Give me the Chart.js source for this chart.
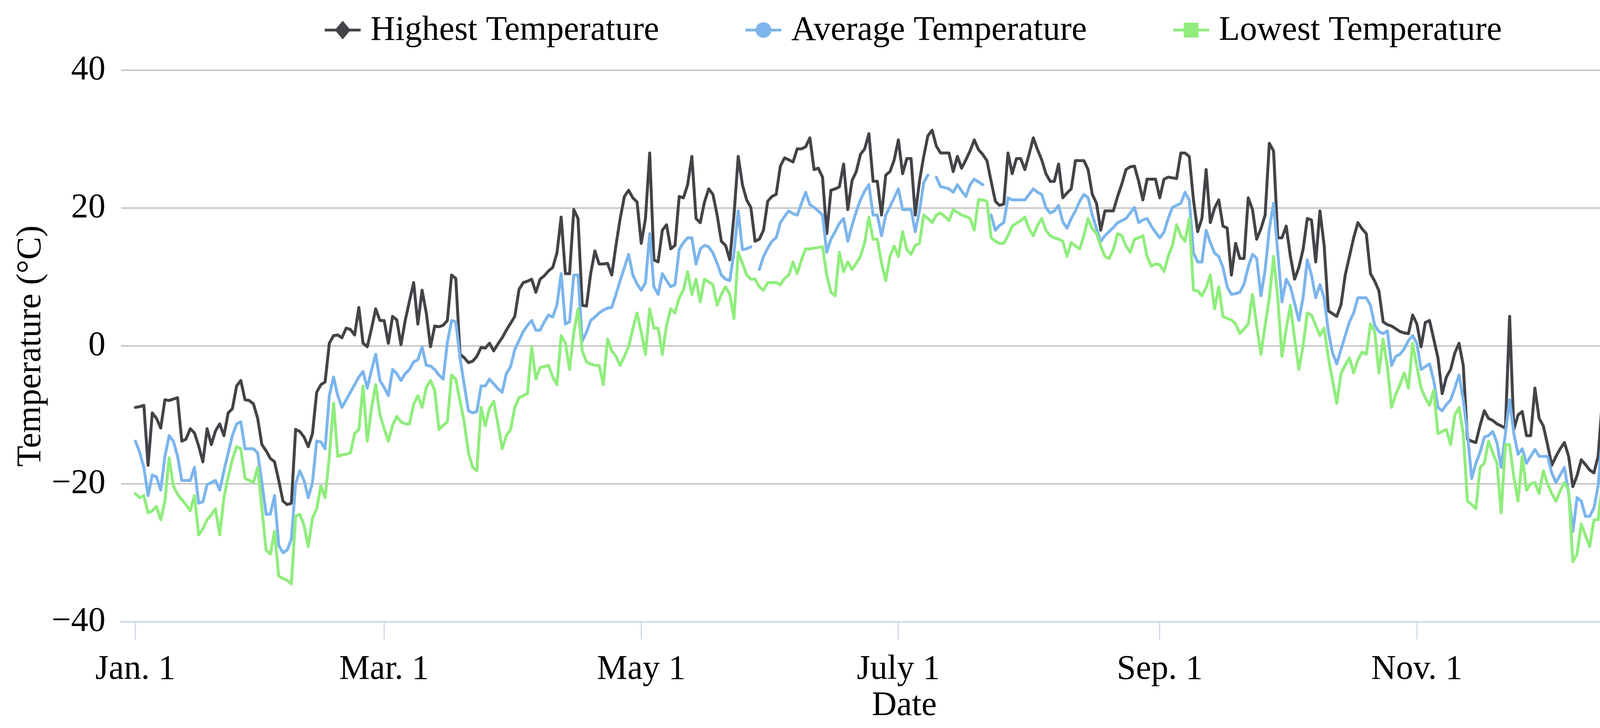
<!DOCTYPE html>
<html>
<head>
<meta charset="utf-8">
<script src="https://cdn.jsdelivr.net/npm/chart.js@4.4.1/dist/chart.umd.min.js"></script>
<style>
html,body{margin:0;padding:0;background:#fff;overflow:hidden;}
#wrap{width:4421px;height:1864px;position:relative;}
</style>
</head>
<body>
<div id="wrap"><canvas id="c"></canvas></div>
<script>
// ---- data (day index 0 = Jan. 1) ----
const seriesNames = ['Highest Temperature', 'Average Temperature', 'Lowest Temperature'];
const tickDays = [0, 59, 120, 181, 243, 304, 365];
const tickLabels = ['Jan. 1', 'Mar. 1', 'May 1', 'July 1', 'Sep. 1', 'Nov. 1', 'Jan. 1'];
const yTicks = [-40, -20, 0, 20, 40];

const highTemp = [
-8.9,-8.8,-8.6,-17.3,-9.7,-10.5,-11.9,-7.8,-7.9,-7.7,
-7.5,-13.8,-13.5,-12,-12.6,-14.5,-16.8,-12,-14.3,-12.3,
-11.3,-13,-9.7,-9.1,-5.8,-5,-7.8,-7.9,-8.4,-10.5,
-14.3,-15.2,-16.3,-16.8,-19.5,-22.5,-23,-22.8,-12.1,-12.4,
-13.2,-14.6,-12.7,-6.7,-5.6,-5.2,0.4,1.5,1.6,1.2,
2.6,2.4,1.6,5.6,0.4,-0.1,2.5,5.4,3.7,3.7,
0.4,4.3,3.8,0.2,3.7,6.5,9.2,3.2,8.1,4.8,
-0.1,2.9,2.8,3.0,3.7,10.3,9.8,-1.2,-1.7,-2.4,
-2.2,-1.5,-0.2,-0.3,0.4,-0.7,0.3,1.2,2.3,3.3,
4.3,8.2,9.2,9.4,9.7,7.8,9.7,10.2,10.9,11.4,
13.5,18.7,10.5,10.5,19.8,18.5,5.9,5.8,10.5,13.8,
11.9,11.9,12.0,10.3,14.6,18.5,21.7,22.6,21.5,20.9,
14.9,18.5,28,12.5,12.2,16.8,17.6,14.1,14.6,21.7,
21.5,23.4,27.5,18.5,17.9,20.9,22.8,22,19,15.2,
14.6,12.5,19,27.5,23.4,21.2,20.1,15.2,15.5,16.8,
21.0,21.7,22,26.1,27.3,27.0,26.7,28.6,28.6,28.9,
30.2,25.6,25.8,24.5,16.3,22.6,22.8,23.1,26.4,19.8,
24.0,25.3,27.8,28.6,30.8,23.9,23.9,19,24.8,25.3,
27,29.9,25,27.2,27.2,19,23.9,27.5,30.5,31.3,
29,28,28,28,25.3,27.5,25.8,27,28.3,29.9,
28.5,27.8,26.9,23.9,21,20.4,20.6,28,25,27.2,
27.2,25.6,27.8,30.2,28.5,27,25,23.9,23.9,26.4,
21.5,22.2,22.8,26.9,26.9,26.9,25.6,22,20.7,16.8,
19.6,19.6,19.6,21.7,23.5,25.6,26,26.1,23.9,21.2,
24.2,24.2,24.2,21.5,24.2,24.5,24.4,24.3,28,28,
27.5,21.2,16.6,18.5,25.6,17.9,20,21.2,17.4,17.1,
10.3,14.9,12.7,12.7,21.5,19.8,15.5,17,19,29.4,
28.3,15.7,15.7,17.4,13,9.7,11.4,14,18.5,18.3,
12.2,19.6,14.6,5.1,4.7,4.3,6,10.3,13,15.7,
17.9,17,16.3,10.5,9.4,8,3.5,3.1,2.9,2.5,
2.1,1.9,1.8,4.5,3.2,-0.1,3.4,3.7,1,-1.7,
-6.9,-4.5,-3.4,-1,0.4,-2.8,-13.5,-13.8,-14,-11.5,
-9.4,-10.5,-10.8,-11.3,-11.6,-11.9,4.3,-12.1,-10,-9.5,
-13,-13,-6.1,-10.5,-11.6,-14.3,-17.3,-16,-14.9,-14,
-16,-20.4,-18.8,-16.5,-17.2,-18,-18.4,-16,-7.8,-7.9,
-9.5,-10.5,-16.2,-16.8,-17.5,-17.9,-16,-18.1,-21.4,-22,
-24.4,-24.5,-25.5,-23.3,-19.2
];

const avgTemp = [
-13.8,-15.4,-17.6,-21.7,-18.7,-19,-20.9,-16,-13,-13.8,
-16,-19.5,-19.5,-19.5,-17.6,-22.8,-22.6,-20.1,-19.8,-19.5,
-20.9,-18.1,-15.5,-13,-11.3,-11,-14.9,-14.9,-14.9,-15.5,
-19.8,-24.4,-24.4,-21.7,-28.9,-30,-29.6,-28,-20,-18.1,
-19.5,-22,-19.8,-13.8,-13.9,-14.9,-7.2,-4.5,-7.2,-8.9,
-7.8,-6.7,-5.6,-4.5,-3.7,-6.1,-3.5,-1.2,-5,-6,
-7.2,-3.4,-4,-5,-4,-3.4,-2.3,-2.0,-0.1,-2.8,
-2.9,-3.4,-4.2,-4.8,0.5,3.7,3.5,-1.7,-5.6,-9.4,
-9.7,-9.5,-5.8,-5.8,-4.8,-5.5,-6.2,-6.7,-4,-3,
-0.5,0.8,2.1,3,3.7,2.3,2.3,3.5,4.5,4.2,
6,10.5,3.2,3.5,10.3,10.3,0.7,2,3.7,4.2,
4.8,5.2,5.5,5.6,7.5,9.5,11.4,13.3,10.3,9,
8.1,9.2,16.3,8.6,7.5,10.5,9.5,8.6,8.9,14,
15,15.7,15.7,11.9,14.1,14.6,14.4,13.5,12,10.3,
9.7,9.5,13.6,19.6,14,14.1,14.4,null,11.1,13,
14.2,15.2,15.7,17.9,18.8,19.6,19.2,19,20.7,22.3,
20.5,20.1,19.6,19,13.6,15.5,16.6,17.8,18.5,15.2,
17.5,19.5,21.2,22.5,23.4,19,19,16,19,20.2,
21.5,22.8,19.8,19.8,19.8,16.6,19.6,23.7,24.8,null,
24.5,23.1,23,22.8,22.3,23.4,22.5,21.7,23.4,24.2,
23.8,23.4,null,19,16.8,17.5,17.9,21.5,21.2,21.2,
21.2,21.2,22,22.8,22.3,22,20.1,19.3,19.6,20.4,
18,17.1,18.5,19.6,21,22,21.5,19,17,15.2,
16,16.6,17.2,17.9,18.2,18.5,19.3,20.1,17.9,18.3,
18.5,17.4,16.5,15.7,16.5,18.5,20.1,20.4,20.7,22.3,
21.2,13.5,12.2,12.2,16.8,15,13.5,13,11.4,8.6,
7.5,7.6,7.8,9,11.5,13.3,12.7,7.3,11,17,
20.7,13.6,6.4,9.7,8.6,6.2,3.7,7,12.5,10.3,
7,8.9,7,2.1,-1,-2.6,-0.5,1.5,3.5,4.8,
7,7,7,5.9,3,2.1,1.8,2.2,-2.8,-1.5,
-1.2,-0.4,0.8,1.5,0.4,-3.4,-3,-2.6,-5,-8.9,
-9.4,-8.5,-7.8,-6.1,-4.2,-7.8,-12.7,-19.2,-17,-15.4,
-13.2,-13,-12.4,-14,-17.6,-12.7,-7.8,-12.7,-15.7,-14.9,
-17,-16,-15,-16,-16,-16,-18.4,-19.8,-18.7,-17.6,
-21.4,-26.9,-22,-22.5,-24.7,-24.7,-23.5,-20.3,-12.7,-12.7,
-15.5,-18.1,-23.9,-24.5,-25,-26.9,-22.5,-24.7,-28.3,-28.8,
-30.2,-29.3,-29.3,-28,-26.3
];

const lowTemp = [
-21.4,-22,-21.7,-24.2,-23.9,-23.3,-25.2,-22.5,-16.2,-20.3,
-21.5,-22.3,-23,-23.9,-21.7,-27.4,-26.5,-25.2,-24.5,-23.6,
-27.4,-22,-19,-16.5,-14.6,-14.9,-19.2,-19.5,-19.8,-17.6,
-23.6,-29.6,-30.2,-26.9,-33.4,-33.7,-34,-34.5,-24.7,-24.4,
-26,-29.1,-25,-23.6,-20.3,-22,-16,-8.3,-16,-15.8,
-15.7,-15.5,-12.7,-12.1,-5.8,-13.8,-9,-5.6,-9.9,-12,
-13.8,-11.5,-10.2,-11,-11.3,-11.3,-8.5,-7.2,-8.9,-6,
-5,-6.4,-12.1,-11.5,-11,-4.2,-4.8,-8,-11,-15.5,
-17.6,-18.1,-8.9,-11.6,-9,-8,-11.3,-14.9,-13,-12.1,
-8.9,-7.5,-7.2,-6.9,-0.1,-4.8,-3.1,-3,-2.8,-4.5,
-5.6,1.5,0.4,-3.4,2,5.4,-0.7,-2.3,-2.6,-2.8,
-2.8,-5.6,1,-0.7,-1.5,-2.8,-1.5,-0.1,2.5,4.8,
2,-1.2,5.4,2.6,2.6,-1.2,3,5.4,4.8,7,
8.1,10.8,7.5,9.7,6.4,9.7,9.3,8.9,5.9,7.5,
8.6,7.5,4,13.6,12,10.3,9.7,9.7,8.6,8.1,
9.2,9.2,9.2,8.9,9.8,10.3,12.2,10.5,12.5,14.1,
14.1,14.2,14.3,14.4,10.3,7.8,7.3,13.6,10.8,12.2,
11.1,12,13,15,18.7,15.5,15.5,12,9.5,13,
14.5,13,16.6,14,13.3,14.6,14.9,19,18.5,17.9,
19,19.3,18.8,18.2,19.8,19.4,19,18.8,18.5,16.8,
21.2,21.2,21,15.7,15.2,14.9,14.9,16,17.4,17.8,
18.2,18.7,17,16,17.5,18.5,16.8,16,15.7,15.5,
15.2,13,15,14.5,14.1,16,18.5,17,16.3,14.5,
13,12.7,14,16.3,16,14.5,13.6,15.5,15.7,16,
13,11.6,11.9,11.8,10.8,13,14.6,17.6,16,15.2,
18.5,8.1,8,7.3,8.5,10.3,5.4,8.6,4.3,4,
3.8,3.2,1.8,2.5,3.2,7.5,3,-1.2,3,7,
13,7,-1.5,2.5,5.9,1,-3.4,0,4.8,4.5,
3,1.5,2.6,-1.7,-5,-8.3,-4,-2.8,-1.7,-3.9,
-2,-0.9,-1.2,3.2,2.1,-3.9,1,-3,-8.9,-7,
-5.6,-3.9,-6.1,0.4,-3,-6.1,-7.5,-8.6,-6.4,-12.7,
-12.4,-12.1,-14.3,-10,-8.9,-12.7,-22.5,-23,-23.6,-17.6,
-17,-13.8,-15.5,-17,-24.2,-14.3,-14.3,-19,-22.5,-16,
-20.9,-20,-19.8,-21.4,-18.1,-20,-21.4,-22.5,-21,-19.8,
-20.9,-31.3,-30.2,-25.8,-27.5,-29.1,-25.2,-25.2,-20,-17,
-17.3,-26.9,-28,-28.5,-29.1,-32.1,-27.4,-28.5,-32.4,-33.2,
-34,-30.7,-32.9,-32.9,-31
];

// ---- chart ----
const FONT = "'Liberation Serif', 'Times New Roman', Times, serif";
const COLORS = ['#434348', '#7cb5ec', '#90ed7d'];
const MARKERS = ['diamond', 'circle', 'square'];
Chart.defaults.font.family = FONT;
Chart.defaults.color = '#000';

const days = highTemp.map((_, i) => i);
const toPts = arr => arr.map((v, i) => ({x: days[i], y: v}));

function drawMarker(ctx, kind, x, y, color) {
  ctx.fillStyle = color;
  ctx.beginPath();
  if (kind === 'circle') {
    ctx.arc(x, y, 20, 0, Math.PI * 2);
  } else if (kind === 'square') {
    ctx.rect(x - 19, y - 19, 38, 38);
  } else {
    ctx.moveTo(x, y - 24); ctx.lineTo(x + 20, y); ctx.lineTo(x, y + 24); ctx.lineTo(x - 20, y); ctx.closePath();
  }
  ctx.fill();
}

const refLegend = {
  id: 'refLegend',
  afterDraw(chart) {
    const ctx = chart.ctx;
    ctx.save();
    ctx.font = '88px ' + FONT;
    ctx.textBaseline = 'middle';
    ctx.textAlign = 'left';
    const symW = 92, gapT = 25, gapI = 221, cy = 77;
    const items = chart.data.datasets.map(ds => ({label: ds.label, color: ds.borderColor, w: ctx.measureText(ds.label).width}));
    const total = items.reduce((s, it) => s + symW + gapT + it.w, 0) + gapI * (items.length - 1);
    let x = 2338 - total / 2;
    items.forEach((it, i) => {
      ctx.strokeStyle = it.color;
      ctx.lineWidth = 7;
      ctx.beginPath(); ctx.moveTo(x, cy); ctx.lineTo(x + symW, cy); ctx.stroke();
      drawMarker(ctx, MARKERS[i], x + symW / 2, cy, it.color);
      ctx.fillStyle = '#000';
      ctx.fillText(it.label, x + symW + gapT, cy + 2);
      x += symW + gapT + it.w + gapI;
    });
    ctx.restore();
  }
};

const mkDs = (i, arr) => ({
  label: seriesNames[i],
  data: toPts(arr),
  borderColor: COLORS[i],
  backgroundColor: COLORS[i],
  borderWidth: 7.5,
  pointRadius: 0,
  tension: 0,
  borderJoinStyle: 'round',
  borderCapStyle: 'round',
  spanGaps: false,
  order: 3 - i
});

new Chart(document.getElementById('c'), {
  type: 'line',
  data: {datasets: [mkDs(0, highTemp), mkDs(1, avgTemp), mkDs(2, lowTemp)]},
  options: {
    responsive: true,
    maintainAspectRatio: false,
    devicePixelRatio: 1,
    animation: false,
    layout: {padding: {left: 0, right: 101, top: 180, bottom: 0}},
    plugins: {legend: {display: false}, tooltip: {enabled: false}, title: {display: false}},
    scales: {
      x: {
        type: 'linear', min: -3.4, max: 368.2,
        afterBuildTicks: s => { s.ticks = tickDays.map(v => ({value: v})); },
        afterFit: s => { s.height = 272; },
        ticks: {autoSkip: false, maxRotation: 0, minRotation: 0, padding: 25, font: {size: 88}, color: '#000',
          callback: v => tickLabels[tickDays.indexOf(v)]},
        grid: {drawOnChartArea: false, drawTicks: true, tickLength: 45, color: '#ccd6eb', lineWidth: 3},
        border: {display: true, color: '#ccd6eb', width: 4},
        title: {display: true, text: 'Date', font: {size: 88}, color: '#000', padding: {top: 0, bottom: 3}}
      },
      y: {
        min: -40, max: 40,
        afterBuildTicks: s => { s.ticks = yTicks.map(v => ({value: v})); },
        afterFit: s => { s.width = 310; },
        ticks: {padding: 40, font: {size: 88}, color: '#000',
          callback: v => v < 0 ? '\u2212' + Math.abs(v) : String(v)},
        grid: {color: '#c2c2c2', lineWidth: 3.5, drawTicks: false},
        border: {display: false},
        title: {display: true, text: 'Temperature (°C)', font: {size: 88}, color: '#000', padding: {top: 27, bottom: 0}}
      }
    }
  },
  plugins: [refLegend]
});
</script>
</body>
</html>
